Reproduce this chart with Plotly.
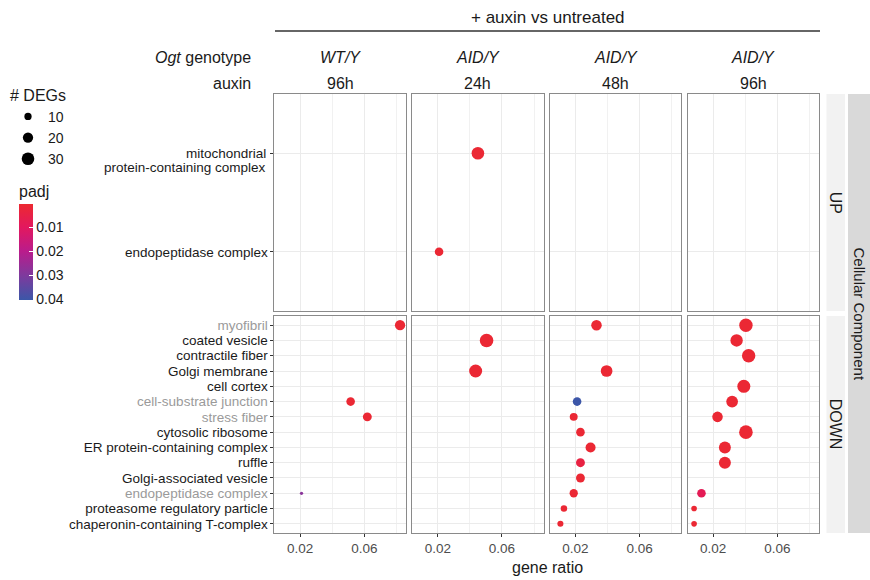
import plotly.graph_objects as go
from plotly.subplots import make_subplots

# ---------------- data ----------------
UP_TERMS = ["mitochondrial<br>protein-containing complex", "endopeptidase complex"]
DOWN_TERMS = ["myofibril", "coated vesicle", "contractile fiber", "Golgi membrane",
              "cell cortex", "cell-substrate junction", "stress fiber",
              "cytosolic ribosome", "ER protein-containing complex", "ruffle",
              "Golgi-associated vesicle", "endopeptidase complex",
              "proteasome regulatory particle", "chaperonin-containing T-complex"]
DOWN_GREY = ["myofibril", "cell-substrate junction", "stress fiber", "endopeptidase complex"]

COL_GENOTYPE = ["WT/Y", "AID/Y", "AID/Y", "AID/Y"]
COL_AUXIN = ["96h", "24h", "48h", "96h"]

# panel 1: WT/Y 96h
P1_DIR = ["DOWN", "DOWN", "DOWN", "DOWN"]
P1_TERM = ["myofibril", "cell-substrate junction", "stress fiber", "endopeptidase complex"]
P1_RATIO = [0.0823, 0.0515, 0.0619, 0.0209]
P1_DEGS = [20, 14, 15, 2]
P1_PADJ = [0.001, 0.001, 0.001, 0.028]

# panel 2: AID/Y 24h
P2_DIR = ["UP", "UP", "DOWN", "DOWN"]
P2_TERM = ["mitochondrial<br>protein-containing complex", "endopeptidase complex",
           "coated vesicle", "Golgi membrane"]
P2_RATIO = [0.0450, 0.0208, 0.0504, 0.0436]
P2_DEGS = [30, 14, 35, 32]
P2_PADJ = [0.001, 0.001, 0.001, 0.001]

# panel 3: AID/Y 48h
P3_DIR = ["DOWN"] * 11
P3_TERM = ["myofibril", "Golgi membrane", "cell-substrate junction", "stress fiber",
           "cytosolic ribosome", "ER protein-containing complex", "ruffle",
           "Golgi-associated vesicle", "endopeptidase complex",
           "proteasome regulatory particle", "chaperonin-containing T-complex"]
P3_RATIO = [0.0331, 0.0394, 0.0210, 0.0189, 0.0231, 0.0294, 0.0231, 0.0231, 0.0189, 0.0128, 0.0106]
P3_DEGS = [21, 26, 14, 12, 14, 19, 15, 15, 13, 8, 7]
P3_PADJ = [0.001, 0.001, 0.040, 0.001, 0.001, 0.001, 0.004, 0.001, 0.001, 0.001, 0.001]

# panel 4: AID/Y 96h
P4_DIR = ["DOWN"] * 12
P4_TERM = ["myofibril", "coated vesicle", "contractile fiber", "cell cortex",
           "cell-substrate junction", "stress fiber", "cytosolic ribosome",
           "ER protein-containing complex", "ruffle", "endopeptidase complex",
           "proteasome regulatory particle", "chaperonin-containing T-complex"]
P4_RATIO = [0.0404, 0.0346, 0.0421, 0.0391, 0.0318, 0.0227, 0.0404, 0.0273, 0.0273, 0.0127, 0.0081, 0.0081]
P4_DEGS = [34, 29, 34, 32, 26, 21, 35, 27, 27, 14, 6, 6]
P4_PADJ = [0.001, 0.001, 0.001, 0.001, 0.001, 0.001, 0.001, 0.001, 0.001, 0.008, 0.001, 0.001]

SIZE_LEGEND = [10, 20, 30]
PADJ_TICKS = [0.01, 0.02, 0.03, 0.04]

PANELS = [
    (P1_DIR, P1_TERM, P1_RATIO, P1_DEGS, P1_PADJ),
    (P2_DIR, P2_TERM, P2_RATIO, P2_DEGS, P2_PADJ),
    (P3_DIR, P3_TERM, P3_RATIO, P3_DEGS, P3_PADJ),
    (P4_DIR, P4_TERM, P4_RATIO, P4_DEGS, P4_PADJ),
]

# ---------------- layout helpers ----------------
W, H = 870, 580
def px(x):
    return x / W
def py(y):
    return 1 - y / H

SIZEREF = 0.378  # marker diameter ~ 2.3*sqrt(n) px
FONT = "Liberation Sans, Arial, sans-serif"
GRID = "#ebebeb"
BORDER = "#8a8a8a"
TXT = "#1a1a1a"

fig = make_subplots(rows=2, cols=4)

row_terms = {"UP": UP_TERMS, "DOWN": DOWN_TERMS}
row_num = {"UP": 1, "DOWN": 2}

# invisible traces so that every panel (even empty ones) is drawn
for r in (1, 2):
    for c in range(1, 5):
        fig.add_trace(go.Scatter(x=[None], y=[None], mode="markers", showlegend=False,
                                 hoverinfo="skip"), row=r, col=c)

for ci, (dirs, terms, ratios, degs, padj) in enumerate(PANELS):
    for d in ["UP", "DOWN"]:
        idx = [k for k in range(len(dirs)) if dirs[k] == d]
        if not idx:
            continue
        order = row_terms[d]
        fig.add_trace(go.Scatter(
            x=[ratios[k] for k in idx],
            y=[order.index(terms[k]) for k in idx],
            mode="markers",
            marker=dict(size=[degs[k] for k in idx], sizemode="area", sizeref=SIZEREF,
                        color=[-padj[k] for k in idx], coloraxis="coloraxis",
                        line=dict(width=0), opacity=1),
            showlegend=False, hoverinfo="skip"),
            row=row_num[d], col=ci + 1)

# size legend entries
for n in SIZE_LEGEND:
    fig.add_trace(go.Scatter(x=[None], y=[None], mode="markers", name=str(n),
                             marker=dict(size=(2 * n / SIZEREF) ** 0.5, color="black"),
                             showlegend=True), row=1, col=1)

# axes domains and styles
ROW_Y = {1: (94, 311), 2: (316, 533)}
for r in (1, 2):
    for c in range(1, 5):
        k = (r - 1) * 4 + c
        xname = "xaxis" if k == 1 else f"xaxis{k}"
        yname = "yaxis" if k == 1 else f"yaxis{k}"
        left = 274.4 + 137.7 * (c - 1)
        right = left + 131.6
        top, bot = ROW_Y[r]
        terms = UP_TERMS if r == 1 else DOWN_TERMS
        n = len(terms)
        if r == 2:
            ttext = [f'<span style="color:#9a9a9a">{t}</span>' if t in DOWN_GREY else t
                     for t in terms]
        else:
            # multi-line label is written with annotations below (tighter line spacing)
            ttext = ["" if "<br>" in t else t for t in terms]
        fig.layout[xname].update(
            domain=[px(left), px(right)], range=[0.004, 0.086],
            tickmode="array", tickvals=[0.02, 0.06], ticktext=["0.02", "0.06"],
            showticklabels=(r == 2), ticks="outside" if r == 2 else "",
            ticklen=3, tickcolor="#333333",
            tickfont=dict(size=13.5, color="#4d4d4d", family=FONT),
            showgrid=True, gridcolor=GRID, gridwidth=1, zeroline=False,
            minor=dict(tickmode="array", tickvals=[0.04, 0.08], showgrid=True,
                       gridcolor="#f1f1f1", gridwidth=1, ticks=""),
            showline=True, mirror=True, linecolor=BORDER, linewidth=1)
        fig.layout[yname].update(
            domain=[py(bot), py(top)], range=[n - 0.4, -0.6],
            tickmode="array", tickvals=list(range(n)), ticktext=ttext,
            showticklabels=(c == 1), ticks="outside" if c == 1 else "",
            ticklen=3, tickcolor="#333333",
            tickfont=dict(size=13.5, color=TXT, family=FONT),
            showgrid=True, gridcolor=GRID, gridwidth=1, zeroline=False,
            showline=True, mirror=True, linecolor=BORDER, linewidth=1)

# colour scale: plotted as -padj so low padj (red) sits at the top of the bar
CMIN, CMAX = -0.0402, -0.0002
fig.update_layout(coloraxis=dict(
    cmin=CMIN, cmax=CMAX,
    colorscale=[[0.0, "#3B57A8"], [0.255, "#7E3A9D"], [0.505, "#B91C8C"],
                [0.755, "#E2185F"], [1.0, "#EC2930"]],
    colorbar=dict(x=px(19), xanchor="left", y=py(241), yanchor="middle",
                  len=118, lenmode="pixels", thickness=14, outlinewidth=0,
                  xpad=0, ypad=0,
                  tickmode="array", tickvals=[-t for t in PADJ_TICKS],
                  ticktext=[f"{t:.2f}" for t in PADJ_TICKS],
                  ticks="inside", ticklen=4, tickcolor="white", tickwidth=1,
                  tickfont=dict(size=14, color=TXT, family=FONT),
                  title=dict(text="padj", side="top",
                             font=dict(size=16, color=TXT, family=FONT)))))

ann = []
def add_text(text, x, y, size, xanchor="center", angle=0, color=TXT):
    ann.append(dict(text=text, x=px(x), y=py(y), xref="paper", yref="paper",
                    xanchor=xanchor, yanchor="middle", showarrow=False, textangle=angle,
                    font=dict(size=size, color=color, family=FONT)))

add_text("+ auxin vs untreated", 548, 17, 17)
add_text("<i>Ogt</i> genotype", 253, 58, 16, xanchor="right")
add_text("auxin", 253, 83, 16, xanchor="right")
for c in range(4):
    cx = 274.4 + 137.7 * c + 65.8
    add_text(f"<i>{COL_GENOTYPE[c]}</i>", cx, 58, 16)
    add_text(COL_AUXIN[c], cx, 83, 16)
add_text("gene ratio", 547, 567, 16)
add_text("UP", 835.8, 202.5, 16, angle=90)
add_text("DOWN", 835.8, 424.5, 16, angle=90)
add_text("Cellular Component", 859, 313.5, 15, angle=90)

# multi-line UP label, line by line, anchored to its category on the y axis
for t in UP_TERMS:
    if "<br>" in t:
        for li, line in enumerate(t.split("<br>")):
            ann.append(dict(text=line, x=px(268), xref="paper", y=UP_TERMS.index(t), yref="y",
                            xanchor="right", yanchor="middle", yshift=-14.5 * li,
                            showarrow=False, font=dict(size=13.5, color=TXT, family=FONT)))

shapes = [
    dict(type="line", xref="paper", yref="paper", x0=px(275), x1=px(820),
         y0=py(31), y1=py(31), line=dict(color="#333333", width=1.5)),
    dict(type="rect", xref="paper", yref="paper", x0=px(826.5), x1=px(845),
         y0=py(311), y1=py(94), fillcolor="#f2f2f2", line=dict(width=0), layer="below"),
    dict(type="rect", xref="paper", yref="paper", x0=px(826.5), x1=px(845),
         y0=py(533), y1=py(316), fillcolor="#f2f2f2", line=dict(width=0), layer="below"),
    dict(type="rect", xref="paper", yref="paper", x0=px(848), x1=px(872),
         y0=py(533), y1=py(94), fillcolor="#d9d9d9", line=dict(width=0), layer="below"),
]

fig.update_layout(
    width=W, height=H, margin=dict(l=0, r=0, t=0, b=0),
    paper_bgcolor="white", plot_bgcolor="white",
    font=dict(family=FONT, color=TXT),
    annotations=ann, shapes=shapes,
    legend=dict(x=px(8), y=py(80), xanchor="left", yanchor="top",
                bgcolor="rgba(0,0,0,0)", itemsizing="trace", tracegroupgap=0,
                font=dict(size=14, color=TXT, family=FONT),
                title=dict(text="# DEGs", font=dict(size=16, color=TXT, family=FONT))),
)

fig.write_html("out.html")
